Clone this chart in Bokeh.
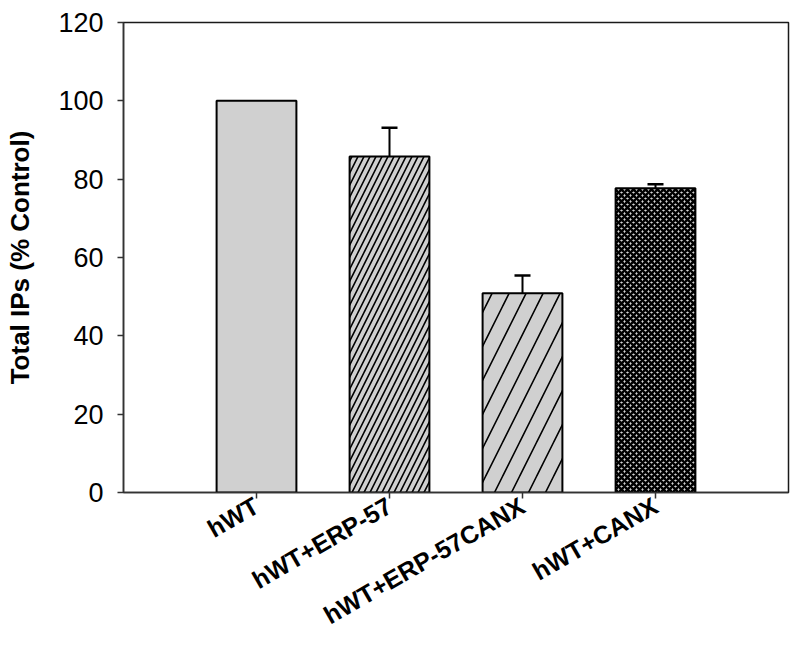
from bokeh.plotting import figure
from bokeh.models import ColumnDataSource, Range1d, FixedTicker, Whisker, TeeHead
from bokeh.embed import file_html
from bokeh.resources import INLINE

categories = ["hWT", "hWT+ERP-57", "hWT+ERP-57CANX", "hWT+CANX"]
positions = [1, 2, 3, 4]
values = [100.0, 85.8, 50.9, 77.7]
errors = [0.0, 7.3, 4.5, 1.0]
y_ticks = [0, 20, 40, 60, 80, 100, 120]

FONT = "Liberation Sans"

p = figure(width=792, height=644, output_backend="svg", toolbar_location=None,
           x_range=Range1d(0, 5), y_range=Range1d(0, 120),
           min_border_left=123, min_border_top=22, min_border_right=4,
           min_border_bottom=144)
p.grid.visible = False
p.background_fill_color = "white"
p.border_fill_color = "white"
p.outline_line_color = "#1a1a1a"
p.outline_line_width = 1.5

bar_styles = [
    dict(),
    dict(hatch_pattern="right_diagonal_line", hatch_scale=12, hatch_weight=1.6,
         hatch_color="black"),
    dict(hatch_pattern="right_diagonal_line", hatch_scale=34, hatch_weight=1.6,
         hatch_color="black"),
    dict(hatch_pattern="diagonal_cross", hatch_scale=6, hatch_weight=2.5,
         hatch_color="black"),
]
for i in range(4):
    p.vbar(x=[positions[i]], top=[values[i]], width=0.6, bottom=0,
           fill_color="#d0d0d0", line_color="black", line_width=2,
           **bar_styles[i])

ex = [positions[i] for i in range(4) if errors[i] > 0]
el = [values[i] for i in range(4) if errors[i] > 0]
eu = [values[i] + errors[i] for i in range(4) if errors[i] > 0]
esrc = ColumnDataSource(dict(x=ex, lower=el, upper=eu))
w = Whisker(source=esrc, base="x", lower="lower", upper="upper",
            line_color="black", line_width=2, lower_head=None,
            upper_head=TeeHead(size=16, line_color="black", line_width=2.5),
            level="overlay")
p.add_layout(w)

xa = p.xaxis[0]
xa.ticker = FixedTicker(ticks=positions)
xa.major_label_overrides = {pos: lab for pos, lab in zip(positions, categories)}
xa.major_label_orientation = 0.5236
xa.major_label_text_font = FONT
xa.major_label_text_font_style = "bold"
xa.major_label_text_font_size = "25px"
xa.major_label_text_color = "black"
xa.major_label_standoff = 5
xa.major_tick_out = 6
xa.major_tick_in = 0
xa.minor_tick_line_color = None
xa.axis_line_color = "#333333"
xa.axis_line_width = 1.5
xa.major_tick_line_color = "#333333"
xa.major_tick_line_width = 1.5

ya = p.yaxis[0]
ya.ticker = FixedTicker(ticks=y_ticks)
ya.major_label_text_font = FONT
ya.major_label_text_font_size = "27px"
ya.major_label_text_color = "black"
ya.major_label_standoff = 14
ya.major_tick_out = 6
ya.major_tick_in = 0
ya.minor_tick_line_color = None
ya.axis_line_color = "#333333"
ya.axis_line_width = 1.5
ya.major_tick_line_color = "#333333"
ya.major_tick_line_width = 1.5
ya.axis_label = "Total IPs (% Control)"
ya.axis_label_text_font = FONT
ya.axis_label_text_font_style = "bold"
ya.axis_label_text_font_size = "26px"
ya.axis_label_text_color = "black"
ya.axis_label_standoff = 20

open("out.html", "w").write(file_html(p, INLINE))
